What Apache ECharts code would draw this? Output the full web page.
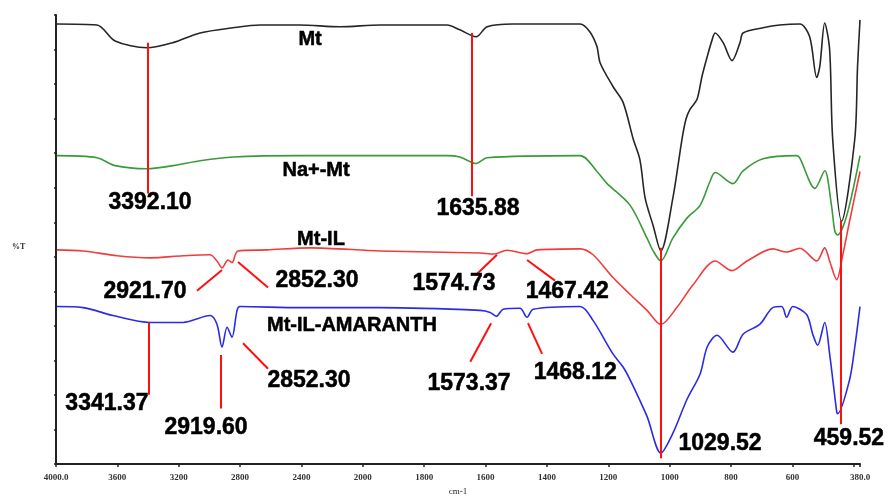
<!DOCTYPE html>
<html>
<head>
<meta charset="utf-8">
<script src="https://cdn.jsdelivr.net/npm/echarts@6/dist/echarts.min.js"></script>
<style>html,body{margin:0;padding:0;background:#fff}#c{width:890px;height:501px}</style>
</head>
<body>
<div id="c"></div>
<script>
// Wavenumber (cm-1) and %T (offset, arbitrary units)
const mt = [[3995,127.4],[3733,127.1],[3615,122.5],[3407,120.5],[3237,122.0],[3061,124.8],[2846,126.3],[2670,127.1],[2410,127.1],[2149,126.6],[1944,127.1],[1726,127.1],[1684,125.7],[1631,123.7],[1595,126.6],[1511,127.4],[1292,127.4],[1260,125.1],[1237,120.8],[1227,116.2],[1185,109.3],[1152,104.7],[1119,94.1],[1097,88.0],[1080,76.9],[1054,69.0],[1029,61.7],[990,76.9],[960,94.1],[947,99.9],[934,102.7],[911,105.6],[895,112.2],[878,117.9],[862,122.8],[852,124.8],[826,122.0],[797,116.8],[771,122.0],[761,124.8],[696,126.3],[642,127.1],[576,127.4],[544,123.7],[521,111.9],[511,115.1],[495,127.7],[479,120.0],[469,94.1],[440,70.3],[397,94.1],[388,115.1],[380,128.6]];
const naMt = [[3995,89.3],[3733,88.7],[3615,86.4],[3407,85.5],[3237,86.4],[3061,87.8],[2846,88.9],[2410,89.3],[1726,89.3],[1684,88.9],[1631,87.0],[1595,88.7],[1292,89.3],[1237,84.7],[1204,81.2],[1129,74.9],[1074,65.4],[1054,61.7],[1029,58.8],[990,65.4],[944,71.2],[901,74.9],[869,81.8],[852,84.4],[794,81.2],[761,84.9],[696,88.4],[586,89.3],[576,88.6],[527,79.8],[495,84.9],[473,74.9],[462,67.4],[453,66.3],[423,72.0],[380,89.3]];
const mtIL = [[3995,62.0],[3824,61.7],[3602,60.3],[3387,59.7],[3172,60.3],[2996,60.6],[2951,58.8],[2918,56.8],[2879,59.1],[2853,58.3],[2814,61.7],[2625,62.0],[2344,62.6],[1944,61.7],[1618,61.1],[1575,60.8],[1530,61.9],[1465,60.9],[1432,62.0],[1292,62.3],[1250,60.6],[1185,54.0],[1129,49.1],[1074,44.5],[1029,40.4],[977,45.3],[924,51.9],[852,58.8],[797,56.0],[748,58.8],[664,62.3],[619,61.4],[576,62.5],[521,58.8],[495,62.6],[479,58.8],[456,53.4],[436,60.6],[414,70.3],[380,84.7]];
const mtILAm = [[3995,45.6],[3824,45.3],[3628,43.0],[3387,41.0],[3172,41.0],[2996,43.0],[2951,40.5],[2918,33.9],[2885,39.6],[2853,36.7],[2820,44.5],[2801,45.6],[2410,45.3],[1944,45.3],[1618,44.5],[1585,43.9],[1565,42.8],[1543,44.8],[1488,45.1],[1465,42.5],[1445,44.8],[1292,45.6],[1250,41.6],[1185,31.9],[1152,28.1],[1129,24.4],[1074,13.8],[1029,3.2],[990,8.9],[944,18.7],[901,26.1],[878,33.9],[846,37.3],[794,32.4],[761,37.6],[706,40.5],[664,45.3],[635,45.6],[619,42.5],[599,45.6],[554,43.3],[534,37.6],[518,34.4],[495,41.0],[479,31.9],[456,15.2],[453,14.6],[414,24.4],[397,33.9],[380,45.6]];

// Peak marker segments [w1, v1, w2, v2]
const peakLines = [[3400,122.0,3400,78.3],[1644,124.8,1644,77.5],[1029,62.6,1029,1.7],[443,70.6,443,11.5],[2918,56.2,3081,50.2],[2814,58.5,2618,51.1],[1563,60.6,1631,54.8],[1465,59.1,1374,53.1],[2781,35.0,2618,27.6],[1582,40.8,1650,29.6],[1462,40.8,1416,31.9],[3394,41.0,3394,20.1],[2925,31.6,2925,16.1]];
const peakTexts = ['3392.10','1635.88','2921.70','2852.30','1574.73','1467.42','2852.30','1573.37','1468.12','3341.37','2919.60','1029.52','459.52'];
const peakTextPos = [[3387,75.8],[1625,73.8],[3420,49.9],[2299,53.1],[1703,52.2],[1334,49.9],[2351,24.1],[1654,23.2],[1308,26.4],[3668,17.5],[3022,10.6],[836,6.0],[416,7.5]];
const seriesNames = ['Mt','Na+-Mt','Mt-IL','Mt-IL-AMARANTH'];
const seriesNamePos = [[2344,122.8],[2305,84.9],[2273,64.9],[2071,40.2]];

const tickWaves = [4000,3600,3200,2800,2400,2000,1800,1600,1400,1200,1000,800,600,380];
const tickLabels = ['4000.0','3600','3200','2800','2400','2000','1800','1600','1400','1200','1000','800','600','380.0'];

// FTIR scale change at 2000 cm-1 (piecewise-linear axis)
const toU = w => w >= 2000 ? (4000 - w) / 400 : 5 + (2000 - w) / 200;
const conv = arr => arr.map(p => [toU(p[0]), p[1]]);
const labelMap = {};
tickWaves.forEach((w, i) => { labelMap[toU(w).toFixed(3)] = tickLabels[i]; });

const lineSeries = (name, data, color) => ({
  name, type: 'line', data: conv(data), symbol: 'none', smooth: 0.3,
  lineStyle: { color, width: 1.6, join: 'round' }, z: 3, silent: true
});

const textLabel = size => ({
  show: true, position: 'inside', formatter: '{b}', fontFamily: 'Liberation Sans', fontWeight: 'bold',
  fontSize: size, color: '#000', opacity: 1, textBorderColor: '#000', textBorderWidth: 0.5
});

const chart = echarts.init(document.getElementById('c'), null, { renderer: 'canvas' });
chart.setOption({
  animation: false,
  backgroundColor: '#fff',
  grid: { left: 56, right: 30, top: 15, bottom: 33 },
  xAxis: {
    type: 'value', min: 0, max: toU(380),
    name: 'cm-1', nameLocation: 'middle', nameGap: 22,
    nameTextStyle: { fontFamily: 'Liberation Serif', fontSize: 9, color: '#222' },
    axisLine: { show: true, lineStyle: { color: '#222', width: 2 } },
    axisTick: { show: true, length: 3, lineStyle: { color: '#222', width: 1.5 }, customValues: tickWaves.concat([400]).map(toU) },
    axisLabel: {
      customValues: tickWaves.map(toU), margin: 9,
      fontFamily: 'Liberation Serif', fontSize: 9, fontWeight: 'bold', color: '#333',
      formatter: v => labelMap[v.toFixed(3)] || ''
    },
    splitLine: { show: false }
  },
  yAxis: {
    type: 'value', min: 0, max: 130, interval: 10,
    axisLine: { show: true, lineStyle: { color: '#222', width: 2 } },
    axisTick: { show: true, length: 2, lineStyle: { color: '#222', width: 1.5 } },
    axisLabel: { show: false },
    splitLine: { show: false }
  },
  graphic: [{ type: 'text', left: 12, top: 243, style: { text: '%T', font: 'bold 8px "Liberation Serif"', fill: '#333' } }],
  series: [
    lineSeries('Mt', mt, '#262626'),
    lineSeries('Na+-Mt', naMt, '#3a9a3a'),
    lineSeries('Mt-IL', mtIL, '#f03c3c'),
    lineSeries('Mt-IL-AMARANTH', mtILAm, '#2a2ae8'),
    {
      type: 'line', data: [], silent: true,
      markLine: {
        silent: true, symbol: 'none', animation: false,
        label: { show: false },
        lineStyle: { color: '#ff1010', width: 2, type: 'solid' },
        data: peakLines.map(s => [{ coord: [toU(s[0]), s[1]] }, { coord: [toU(s[2]), s[3]] }])
      }, z: 4
    },
    {
      type: 'scatter', symbolSize: 0, silent: true, z: 5, itemStyle: { opacity: 1 },
      data: peakTextPos.map((p, i) => ({ value: [toU(p[0]), p[1]], name: peakTexts[i] })),
      label: textLabel(23)
    },
    {
      type: 'scatter', symbolSize: 0, silent: true, z: 5, itemStyle: { opacity: 1 },
      data: seriesNamePos.map((p, i) => ({ value: [toU(p[0]), p[1]], name: seriesNames[i] })),
      label: textLabel(20)
    }
  ]
});
</script>
</body>
</html>
